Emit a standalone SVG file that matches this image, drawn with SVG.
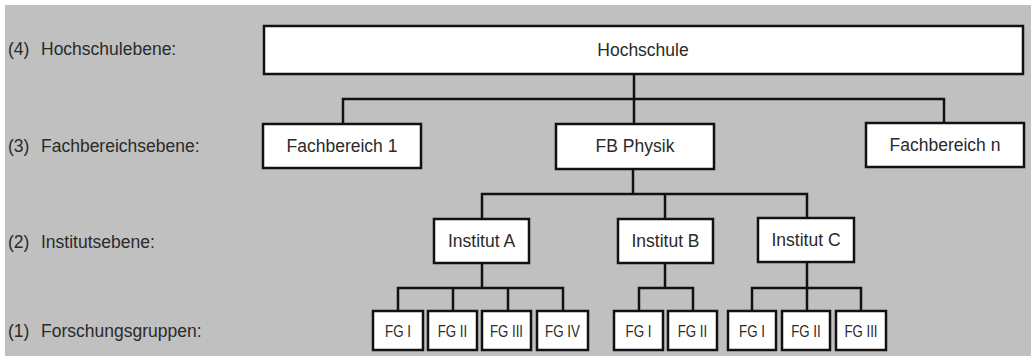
<svg xmlns="http://www.w3.org/2000/svg" width="1031" height="363" viewBox="0 0 1031 363">
<style>
.bg{fill:#c0c0c0}
.box{fill:#ffffff;stroke:#111111;stroke-width:2.5}
.lbl{font-family:"Liberation Sans",Arial,sans-serif;font-size:17.5px;fill:#2a2a2a}
.t{font-family:"Liberation Sans",Arial,sans-serif;font-size:17.5px;fill:#2a2a2a;text-anchor:middle}
.fg{font-family:"Liberation Sans",Arial,sans-serif;font-size:16px;fill:#2a2a2a;text-anchor:middle}
.con{fill:none;stroke:#111111;stroke-width:2.5}
</style>
<rect x="0" y="0" width="1031" height="363" fill="#ffffff"/>
<rect class="bg" x="5" y="5" width="1026" height="351"/>
<g id="levels">
<text class="lbl" x="8" y="55">(4)</text><text class="lbl" x="41" y="55">Hochschulebene:</text>
<text class="lbl" x="8" y="152">(3)</text><text class="lbl" x="41" y="152">Fachbereichsebene:</text>
<text class="lbl" x="8" y="248">(2)</text><text class="lbl" x="41" y="248">Institutsebene:</text>
<text class="lbl" x="8" y="337">(1)</text><text class="lbl" x="41" y="337">Forschungsgruppen:</text>
</g>
<g id="connectors">
<path class="con" d="M634 74V99M343 124V99H944V123M634 99V124"/>
<path class="con" d="M633 169V194M482 219V194H807V219M665 194V219"/>
<path class="con" d="M482 263V288M398 311V288H563V311M453 288V311M508 288V311"/>
<path class="con" d="M665 263V288M639 311V288H693V311"/>
<path class="con" d="M807 262V288M752 311V288H861V311M807 288V311"/>
</g>
<g id="hochschule"><rect class="box" x="264" y="26" width="759" height="48"/><text class="t" x="643" y="56">Hochschule</text></g>
<g id="fb1"><rect class="box" x="263" y="124" width="158" height="44"/><text class="t" x="342" y="152">Fachbereich 1</text></g>
<g id="fbphysik"><rect class="box" x="556" y="124" width="158" height="45"/><text class="t" x="635" y="152">FB Physik</text></g>
<g id="fbn"><rect class="box" x="866" y="123" width="158" height="44"/><text class="t" x="945" y="151">Fachbereich n</text></g>
<g id="institutA"><rect class="box" x="434" y="219" width="95" height="44"/><text class="t" x="481.5" y="247">Institut A</text></g>
<g id="institutB"><rect class="box" x="618" y="219" width="95" height="44"/><text class="t" x="665.5" y="247">Institut B</text></g>
<g id="institutC"><rect class="box" x="758" y="218" width="96" height="44"/><text class="t" x="806" y="246">Institut C</text></g>
<g id="a-fg1"><rect class="box" x="373" y="311" width="50" height="39"/><text class="fg" x="398" y="336.5" textLength="26" lengthAdjust="spacingAndGlyphs">FG I</text></g>
<g id="a-fg2"><rect class="box" x="428" y="311" width="49" height="39"/><text class="fg" x="452.5" y="336.5" textLength="29.5" lengthAdjust="spacingAndGlyphs">FG II</text></g>
<g id="a-fg3"><rect class="box" x="482" y="311" width="49" height="39"/><text class="fg" x="506.5" y="336.5" textLength="33" lengthAdjust="spacingAndGlyphs">FG III</text></g>
<g id="a-fg4"><rect class="box" x="537" y="311" width="51" height="39"/><text class="fg" x="562.5" y="336.5" textLength="35" lengthAdjust="spacingAndGlyphs">FG IV</text></g>
<g id="b-fg1"><rect class="box" x="614" y="311" width="49" height="39"/><text class="fg" x="638.5" y="336.5" textLength="26" lengthAdjust="spacingAndGlyphs">FG I</text></g>
<g id="b-fg2"><rect class="box" x="668" y="311" width="49" height="39"/><text class="fg" x="692.5" y="336.5" textLength="29.5" lengthAdjust="spacingAndGlyphs">FG II</text></g>
<g id="c-fg1"><rect class="box" x="728" y="311" width="48" height="39"/><text class="fg" x="752" y="336.5" textLength="26" lengthAdjust="spacingAndGlyphs">FG I</text></g>
<g id="c-fg2"><rect class="box" x="782" y="311" width="48" height="39"/><text class="fg" x="806" y="336.5" textLength="29.5" lengthAdjust="spacingAndGlyphs">FG II</text></g>
<g id="c-fg3"><rect class="box" x="836" y="311" width="50" height="39"/><text class="fg" x="861" y="336.5" textLength="33" lengthAdjust="spacingAndGlyphs">FG III</text></g>
</svg>
